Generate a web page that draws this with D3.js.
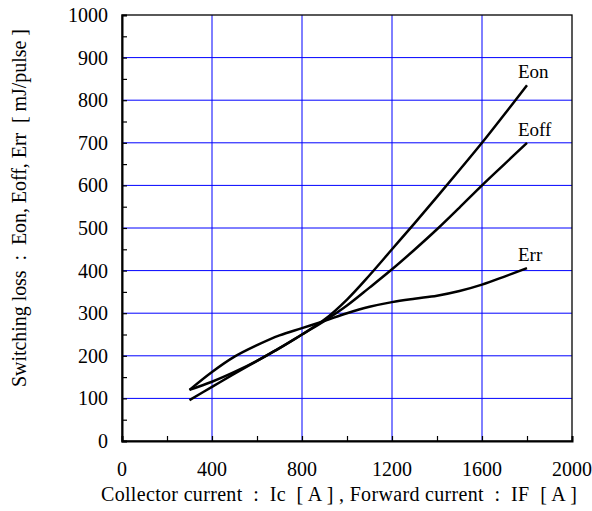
<!DOCTYPE html>
<html>
<head>
<meta charset="utf-8">
<script src="https://cdn.jsdelivr.net/npm/d3@7"></script>
<style>
    body { margin: 0; background: #fff; }
    svg { display: block; }
</style>
</head>
<body>
<div id="chart"></div>
<script>
// Collector / forward current [A]
const current = [300, 400, 500, 600, 700, 800, 900, 1000, 1100, 1200, 1300, 1400, 1500, 1600, 1700, 1800]
// Switching losses [mJ/pulse]
const eon = [96, 127, 158, 188, 218, 250, 285, 332, 389, 450, 511, 573, 636, 700, 767, 835]
const eoff = [120, 139, 162, 188, 218, 250, 282, 318, 360, 403, 449, 497, 548, 600, 650, 700]
const err = [120, 162, 198, 225, 248, 265, 282, 300, 315, 326, 334, 341, 352, 367, 386, 406]
const seriesNames = ['Eon', 'Eoff', 'Err']

const xTicks = [0, 400, 800, 1200, 1600, 2000]
const yTicks = [0, 100, 200, 300, 400, 500, 600, 700, 800, 900, 1000]

const fontFamily = '"Liberation Serif", "Times New Roman", Times, serif'
const width = 592, height = 511
const margin = { top: 15, right: 20, bottom: 70, left: 122 }
const w = width - margin.left - margin.right
const h = height - margin.top - margin.bottom

const svg = d3.select('#chart')
    .append('svg')
    .attr('width', width)
    .attr('height', height)
    .attr('font-family', fontFamily)

const g = svg.append('g')
    .attr('transform', `translate(${margin.left},${margin.top})`)

const x = d3.scaleLinear().domain([0, 2000]).range([0, w])
const y = d3.scaleLinear().domain([0, 1000]).range([h, 0])

// Grid lines
g.selectAll('.hgrid')
    .data(yTicks.slice(1, -1))
    .enter()
    .append('line')
    .attr('x1', 0).attr('x2', w)
    .attr('y1', d => y(d)).attr('y2', d => y(d))
    .attr('stroke', '#0000ff').attr('stroke-width', 1)

g.selectAll('.vgrid')
    .data(xTicks.slice(1, -1))
    .enter()
    .append('line')
    .attr('x1', d => x(d)).attr('x2', d => x(d))
    .attr('y1', 0).attr('y2', h)
    .attr('stroke', '#0000ff').attr('stroke-width', 1)

// Frame
g.append('rect')
    .attr('width', w).attr('height', h)
    .attr('fill', 'none').attr('stroke', '#000').attr('stroke-width', 1.3)

// Axes (inward ticks every 200 / 50)
const xAxis = d3.axisBottom(x).tickValues(d3.range(0, 2001, 200)).tickSize(-5).tickFormat('')
const yAxis = d3.axisLeft(y).tickValues(d3.range(0, 1001, 50)).tickSize(-5).tickFormat('')

g.append('g').attr('transform', `translate(0,${h})`).call(xAxis)
    .call(a => a.select('.domain').attr('stroke-width', 2))
    .call(a => a.selectAll('line').attr('stroke-width', 1.2))
g.append('g').call(yAxis)
    .call(a => a.select('.domain').attr('stroke-width', 2))
    .call(a => a.selectAll('line').attr('stroke-width', 1.2))

// Tick labels
g.selectAll('.xlab')
    .data(xTicks)
    .enter()
    .append('text')
    .attr('x', d => x(d))
    .attr('y', h + 35)
    .attr('text-anchor', 'middle')
    .attr('font-size', 20)
    .text(d => d)

g.selectAll('.ylab')
    .data(yTicks)
    .enter()
    .append('text')
    .attr('x', -14)
    .attr('y', d => y(d))
    .attr('dy', '0.35em')
    .attr('text-anchor', 'end')
    .attr('font-size', 20)
    .text(d => d)

// Axis titles
svg.append('text')
    .attr('x', 339)
    .attr('y', 501)
    .attr('text-anchor', 'middle')
    .attr('font-size', 20)
    .attr('textLength', 476)
    .attr('lengthAdjust', 'spacing')
    .style('white-space', 'pre')
    .text('Collector current  :  Ic  [ A ] , Forward current  :  IF  [ A ]')

svg.append('text')
    .attr('transform', 'translate(26,208) rotate(-90)')
    .attr('text-anchor', 'middle')
    .attr('font-size', 20)
    .attr('textLength', 358)
    .attr('lengthAdjust', 'spacing')
    .style('white-space', 'pre')
    .text('Switching loss  :  Eon, Eoff, Err  [ mJ/pulse ]')

// Curves
const series = [eon, eoff, err]
const line = d3.line()
    .x((d, i) => x(current[i]))
    .y(d => y(d))
    .curve(d3.curveCatmullRom.alpha(0.5))

g.selectAll('.curve')
    .data(series)
    .enter()
    .append('path')
    .attr('d', d => line(d))
    .attr('fill', 'none')
    .attr('stroke', '#000')
    .attr('stroke-width', 2.5)

// Curve labels at the end points
g.selectAll('.clab')
    .data(series)
    .enter()
    .append('text')
    .attr('x', x(current[current.length - 1]) - 9)
    .attr('y', d => y(d[d.length - 1]) - 7)
    .attr('font-size', 19)
    .text((d, i) => seriesNames[i])
</script>
</body>
</html>
